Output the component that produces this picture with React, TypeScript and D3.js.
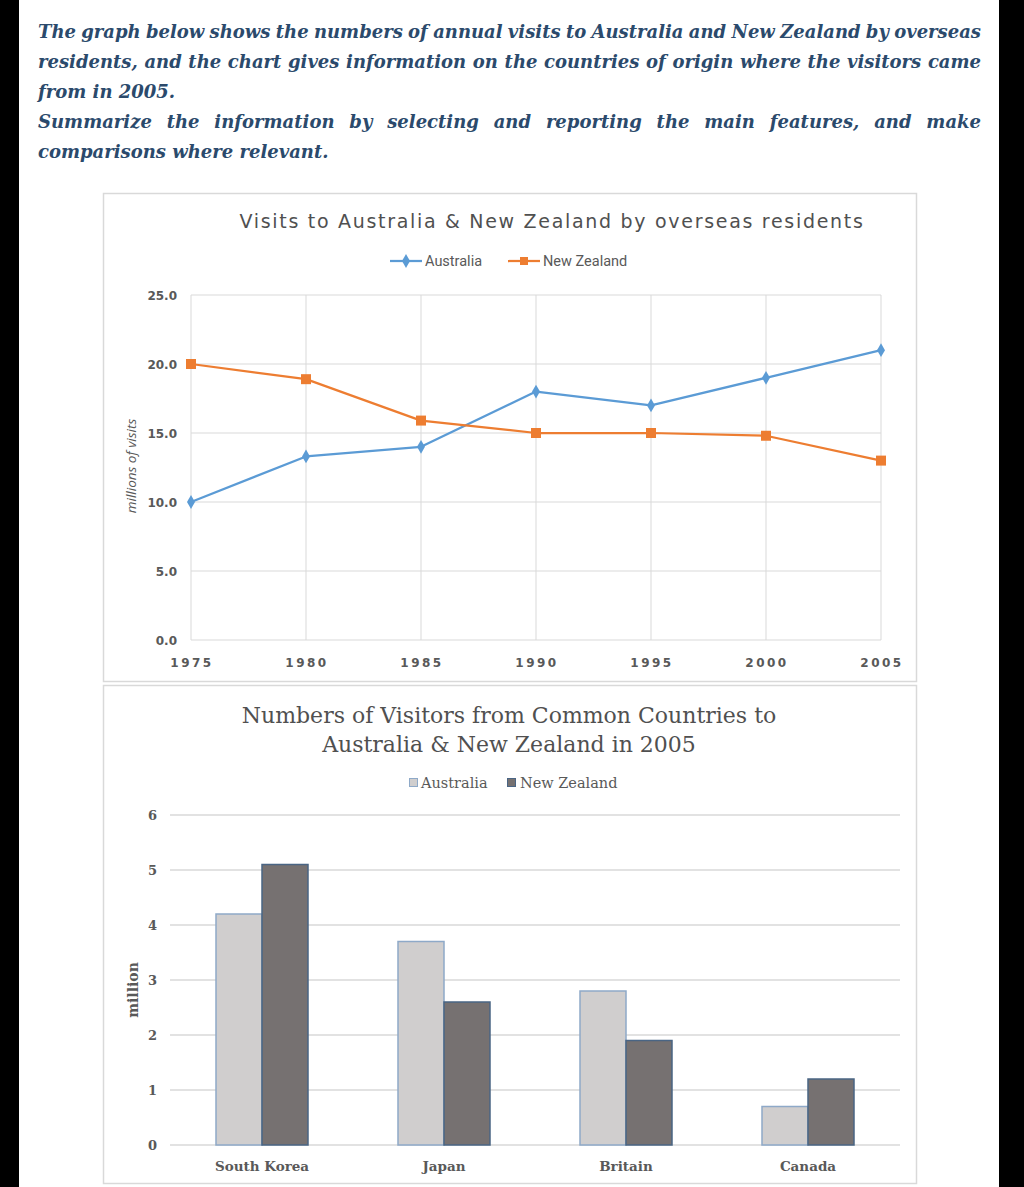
import React, { useEffect, useRef } from 'react';
import * as d3 from 'd3';

// ---------- data ----------
const years = [1975, 1980, 1985, 1990, 1995, 2000, 2005];
const australiaVisits = [10.0, 13.3, 14.0, 18.0, 17.0, 19.0, 21.0];
const newZealandVisits = [20.0, 18.9, 15.9, 15.0, 15.0, 14.8, 13.0];
const lineYTicks = [0, 5, 10, 15, 20, 25];

const countries = ['South Korea', 'Japan', 'Britain', 'Canada'];
const australiaVisitors = [4.2, 3.7, 2.8, 0.7];
const newZealandVisitors = [5.1, 2.6, 1.9, 1.2];
const barYTicks = [0, 1, 2, 3, 4, 5, 6];
const barSeries = ['Australia', 'New Zealand'];

const headingLines = [
  'The graph below shows the numbers of annual visits to Australia and New Zealand by overseas',
  'residents, and the chart gives information on the countries of origin where the visitors came',
  'from in 2005.',
  'Summarize the information by selecting and reporting the main features, and make',
  'comparisons where relevant.',
];
const headingJustified = [true, true, false, true, false];

const lineTitle = 'Visits to Australia & New Zealand by overseas residents';
const barTitle = ['Numbers of Visitors from Common Countries to', 'Australia & New Zealand in 2005'];

// ---------- styles ----------
const W = 1024;
const H = 1187;
const BLUE = '#5b9bd5';
const ORANGE = '#ed7d31';
const GRID = '#d9d9d9';
const TXT = '#595959';
const HEAD = '#2b4a6c';
const AU_FILL = '#d0cece';
const AU_STROKE = '#8ea9c8';
const NZ_FILL = '#767171';
const NZ_STROKE = '#4a6584';

const SANS = '"DejaVu Sans", sans-serif';
const SERIF = '"DejaVu Serif", serif';

export default function App() {
  const headRef = useRef<SVGGElement>(null);

  useEffect(() => {
    document.body.style.margin = '0';
    const g = d3.select(headRef.current);
    g.selectAll('*').remove();
    const left = 38;
    const right = 981;
    const baselines = [38, 68, 98, 128, 158];
    headingLines.forEach((line, i) => {
      if (!headingJustified[i]) {
        g.append('text')
          .attr('x', left)
          .attr('y', baselines[i])
          .text(line);
        return;
      }
      const words = line.split(' ');
      const texts = words.map((w) => g.append('text').attr('y', baselines[i]).text(w));
      const widths = texts.map((t) => (t.node() as SVGTextElement).getComputedTextLength());
      const total = d3.sum(widths);
      const gap = (right - left - total) / (words.length - 1);
      let x = left;
      texts.forEach((t, j) => {
        t.attr('x', x);
        x += widths[j] + gap;
      });
    });
  }, []);

  // line chart scales
  const lx = d3.scaleLinear().domain([1975, 2005]).range([191, 881]);
  const ly = d3.scaleLinear().domain([0, 25]).range([640, 295]);
  const lineGen = d3
    .line<number>()
    .x((_, i) => lx(years[i]))
    .y((d) => ly(d));
  const diamond = d3.symbol().type(d3.symbolDiamond).size(55)();
  const square = d3.symbol().type(d3.symbolSquare).size(100)();

  // bar chart scales
  const bx0 = d3.scaleBand<string>().domain(countries).range([171, 899]).padding(0);
  const bw = bx0.bandwidth();
  const bx1 = d3.scaleBand<string>().domain(barSeries).range([bw / 2 - 46, bw / 2 + 46]).padding(0);
  const by = d3.scaleLinear().domain([0, 6]).range([1145, 815]);

  return (
    <svg
      width={W}
      height={H}
      viewBox={`0 0 ${W} ${H}`}
      style={{ position: 'absolute', left: 0, top: 0, display: 'block' }}
    >
      <rect x={0} y={0} width={W} height={H} fill="#ffffff" />
      <rect x={0} y={0} width={19} height={H} fill="#000000" />
      <rect x={999} y={0} width={25} height={H} fill="#000000" />

      {/* heading */}
      <g
        ref={headRef}
        fill={HEAD}
        style={{ fontFamily: SERIF, fontStyle: 'italic', fontWeight: 'bold', fontSize: 18 }}
      />

      {/* ---------- line chart ---------- */}
      <rect x={103.5} y={193.5} width={813} height={488} fill="#fff" stroke={GRID} strokeWidth={1.5} />
      <text
        x={552}
        y={228}
        textAnchor="middle"
        fill="#505050"
        style={{ fontFamily: SANS, fontSize: 19, letterSpacing: 1.7 }}
      >
        {lineTitle}
      </text>

      {/* legend */}
      <g style={{ fontFamily: '"Liberation Sans Narrow", Roboto, sans-serif', fontSize: 14.5 }} fill={TXT}>
        <line x1={390} x2={422} y1={261} y2={261} stroke={BLUE} strokeWidth={2.25} />
        <path d={diamond} transform="translate(406,261)" fill={BLUE} />
        <text x={425} y={266}>Australia</text>
        <line x1={508} x2={540} y1={261} y2={261} stroke={ORANGE} strokeWidth={2.25} />
        <path d={square} transform="translate(524,261) scale(0.8)" fill={ORANGE} />
        <text x={543} y={266}>New Zealand</text>
      </g>

      {/* grid */}
      <g stroke={GRID} strokeWidth={1}>
        {lineYTicks.map((t) => (
          <line key={'lh' + t} x1={191} x2={881} y1={ly(t)} y2={ly(t)} />
        ))}
        {years.map((yr) => (
          <line key={'lv' + yr} x1={lx(yr)} x2={lx(yr)} y1={ly(25)} y2={ly(0)} />
        ))}
      </g>

      {/* y tick labels */}
      <g style={{ fontFamily: SANS, fontSize: 12, fontWeight: 'bold' }} fill={TXT}>
        {lineYTicks.map((t) => (
          <text key={'ly' + t} x={177} y={ly(t) + 4.5} textAnchor="end">
            {t.toFixed(1)}
          </text>
        ))}
        {years.map((yr) => (
          <text
            key={'lx' + yr}
            x={lx(yr) + 1}
            y={667}
            textAnchor="middle"
            style={{ letterSpacing: 2.5 }}
          >
            {yr}
          </text>
        ))}
      </g>
      <text
        transform={`translate(136,${466}) rotate(-90)`}
        textAnchor="middle"
        fill={TXT}
        style={{ fontFamily: '"Open Sans", sans-serif', fontSize: 13.5, fontStyle: 'italic' }}
      >
        millions of visits
      </text>

      {/* lines */}
      <path d={lineGen(australiaVisits) || ''} fill="none" stroke={BLUE} strokeWidth={2.25} strokeLinejoin="round" />
      <path d={lineGen(newZealandVisits) || ''} fill="none" stroke={ORANGE} strokeWidth={2.25} strokeLinejoin="round" />
      {australiaVisits.map((v, i) => (
        <path key={'am' + i} d={diamond} transform={`translate(${lx(years[i])},${ly(v)})`} fill={BLUE} />
      ))}
      {newZealandVisits.map((v, i) => (
        <path key={'nm' + i} d={square} transform={`translate(${lx(years[i])},${ly(v)})`} fill={ORANGE} />
      ))}

      {/* ---------- bar chart ---------- */}
      <rect x={103.5} y={685.5} width={813} height={498} fill="#fff" stroke={GRID} strokeWidth={1.5} />
      <g fill="#505050" style={{ fontFamily: SERIF, fontSize: 22 }} textAnchor="middle">
        <text x={509} y={723}>{barTitle[0]}</text>
        <text x={509} y={752}>{barTitle[1]}</text>
      </g>

      {/* legend */}
      <g style={{ fontFamily: SERIF, fontSize: 14.5 }} fill={TXT}>
        <rect x={409.5} y={778.5} width={8} height={8} fill={AU_FILL} stroke={AU_STROKE} />
        <text x={421} y={788}>Australia</text>
        <rect x={507.5} y={778.5} width={8} height={8} fill={NZ_FILL} stroke={NZ_STROKE} />
        <text x={520} y={788}>New Zealand</text>
      </g>

      {/* grid */}
      <g stroke={GRID} strokeWidth={1.5}>
        {barYTicks.map((t) => (
          <line key={'bh' + t} x1={170} x2={900} y1={by(t)} y2={by(t)} />
        ))}
      </g>
      <g style={{ fontFamily: SERIF, fontSize: 13, fontWeight: 'bold' }} fill={TXT}>
        {barYTicks.map((t) => (
          <text key={'by' + t} x={157} y={by(t) + 5} textAnchor="end">
            {t}
          </text>
        ))}
      </g>
      <text
        transform={`translate(138,990) rotate(-90)`}
        textAnchor="middle"
        fill={TXT}
        style={{ fontFamily: SERIF, fontSize: 14, fontWeight: 'bold' }}
      >
        million
      </text>

      {/* bars */}
      {countries.map((c, i) => {
        const x0 = bx0(c) || 0;
        const au = australiaVisitors[i];
        const nz = newZealandVisitors[i];
        return (
          <g key={'bar' + c}>
            <rect
              x={x0 + (bx1('Australia') || 0)}
              y={by(au)}
              width={bx1.bandwidth()}
              height={by(0) - by(au)}
              fill={AU_FILL}
              stroke={AU_STROKE}
              strokeWidth={1.5}
            />
            <rect
              x={x0 + (bx1('New Zealand') || 0)}
              y={by(nz)}
              width={bx1.bandwidth()}
              height={by(0) - by(nz)}
              fill={NZ_FILL}
              stroke={NZ_STROKE}
              strokeWidth={1.5}
            />
          </g>
        );
      })}

      <g style={{ fontFamily: SERIF, fontSize: 13.5, fontWeight: 'bold' }} fill={TXT} textAnchor="middle">
        {countries.map((c) => (
          <text key={'bl' + c} x={(bx0(c) || 0) + bw / 2} y={1171}>
            {c}
          </text>
        ))}
      </g>
    </svg>
  );
}
